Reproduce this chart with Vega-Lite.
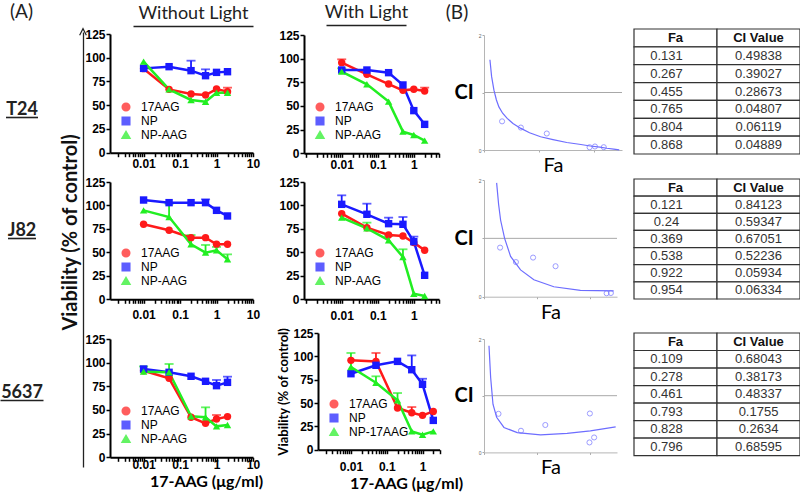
{
"$schema": "https://vega.github.io/schema/vega-lite/v6.json",
"background": "white",
"padding": 0,
"bounds": "flush",
"spacing": 0,
"resolve": {"scale": {"color": "independent", "shape": "independent"}, "legend": {"color": "independent", "shape": "independent"}},
"config": {
  "view": {"stroke": null},
  "font": "Liberation Sans",
  "axis": {"grid": false, "domainColor": "black", "domainWidth": 2, "tickColor": "black", "tickWidth": 1.5, "tickSize": 4, "labelColor": "black", "labelFont": "Liberation Sans", "labelFontWeight": "bold", "labelFontSize": 12, "labelOverlap": false, "labelFlush": false, "labelBound": false, "titleColor": "black", "titleFont": "Lato", "titleFontWeight": "bold"},
  "legend": {"orient": "bottom-left", "offset": 10, "padding": 0, "rowPadding": -5, "symbolSize": 50, "labelOffset": 9, "labelFont": "Liberation Sans", "labelFontSize": 12, "labelColor": "black", "symbolStrokeWidth": 2}
},
"datasets": {
  "dr": [
    {"cell":"T24","light":"without","agent":"17AAG","dose":0.01,"v":88.5},
    {"cell":"T24","light":"without","agent":"17AAG","dose":0.05,"v":66.7},
    {"cell":"T24","light":"without","agent":"17AAG","dose":0.2,"v":61.8},
    {"cell":"T24","light":"without","agent":"17AAG","dose":0.5,"v":60.7},
    {"cell":"T24","light":"without","agent":"17AAG","dose":1,"v":67},
    {"cell":"T24","light":"without","agent":"17AAG","dose":2,"v":64.3,"hi":68.5},
    {"cell":"T24","light":"without","agent":"NP","dose":0.01,"v":88.8},
    {"cell":"T24","light":"without","agent":"NP","dose":0.05,"v":90.6},
    {"cell":"T24","light":"without","agent":"NP","dose":0.2,"v":86.4,"hi":96.9},
    {"cell":"T24","light":"without","agent":"NP","dose":0.5,"v":81.1,"hi":87.8},
    {"cell":"T24","light":"without","agent":"NP","dose":1,"v":84.6},
    {"cell":"T24","light":"without","agent":"NP","dose":2,"v":85.3},
    {"cell":"T24","light":"without","agent":"NP-AAG","dose":0.01,"v":95.9},
    {"cell":"T24","light":"without","agent":"NP-AAG","dose":0.05,"v":66.7},
    {"cell":"T24","light":"without","agent":"NP-AAG","dose":0.2,"v":55.5},
    {"cell":"T24","light":"without","agent":"NP-AAG","dose":0.5,"v":53.7},
    {"cell":"T24","light":"without","agent":"NP-AAG","dose":1,"v":63.2},
    {"cell":"T24","light":"without","agent":"NP-AAG","dose":2,"v":63.2},

    {"cell":"T24","light":"with","agent":"17AAG","dose":0.01,"v":95.8,"hi":99.3},
    {"cell":"T24","light":"with","agent":"17AAG","dose":0.05,"v":83.5},
    {"cell":"T24","light":"with","agent":"17AAG","dose":0.2,"v":73.2},
    {"cell":"T24","light":"with","agent":"17AAG","dose":0.5,"v":66.5},
    {"cell":"T24","light":"with","agent":"17AAG","dose":1,"v":67.6},
    {"cell":"T24","light":"with","agent":"17AAG","dose":2,"v":65.8,"hi":69.4},
    {"cell":"T24","light":"with","agent":"NP","dose":0.01,"v":88},
    {"cell":"T24","light":"with","agent":"NP","dose":0.05,"v":88},
    {"cell":"T24","light":"with","agent":"NP","dose":0.2,"v":85.2},
    {"cell":"T24","light":"with","agent":"NP","dose":0.5,"v":72.2},
    {"cell":"T24","light":"with","agent":"NP","dose":1,"v":45.1},
    {"cell":"T24","light":"with","agent":"NP","dose":2,"v":30.6},
    {"cell":"T24","light":"with","agent":"NP-AAG","dose":0.01,"v":86.3,"hi":89.8},
    {"cell":"T24","light":"with","agent":"NP-AAG","dose":0.05,"v":72.9},
    {"cell":"T24","light":"with","agent":"NP-AAG","dose":0.2,"v":54.6},
    {"cell":"T24","light":"with","agent":"NP-AAG","dose":0.5,"v":22.9},
    {"cell":"T24","light":"with","agent":"NP-AAG","dose":1,"v":19.4},
    {"cell":"T24","light":"with","agent":"NP-AAG","dose":2,"v":13.4},

    {"cell":"J82","light":"without","agent":"17AAG","dose":0.01,"v":79.9},
    {"cell":"J82","light":"without","agent":"17AAG","dose":0.05,"v":73.5},
    {"cell":"J82","light":"without","agent":"17AAG","dose":0.2,"v":65.7},
    {"cell":"J82","light":"without","agent":"17AAG","dose":0.5,"v":65.7},
    {"cell":"J82","light":"without","agent":"17AAG","dose":1,"v":58.6},
    {"cell":"J82","light":"without","agent":"17AAG","dose":2,"v":58.6},
    {"cell":"J82","light":"without","agent":"NP","dose":0.01,"v":105.8},
    {"cell":"J82","light":"without","agent":"NP","dose":0.05,"v":103},
    {"cell":"J82","light":"without","agent":"NP","dose":0.2,"v":103},
    {"cell":"J82","light":"without","agent":"NP","dose":0.5,"v":103,"hi":106.5},
    {"cell":"J82","light":"without","agent":"NP","dose":1,"v":94.8},
    {"cell":"J82","light":"without","agent":"NP","dose":2,"v":88.8},
    {"cell":"J82","light":"without","agent":"NP-AAG","dose":0.01,"v":94.8},
    {"cell":"J82","light":"without","agent":"NP-AAG","dose":0.05,"v":87.7,"hi":101.9},
    {"cell":"J82","light":"without","agent":"NP-AAG","dose":0.2,"v":58.6,"hi":68.5},
    {"cell":"J82","light":"without","agent":"NP-AAG","dose":0.5,"v":49.7,"hi":57.9},
    {"cell":"J82","light":"without","agent":"NP-AAG","dose":1,"v":52.2,"hi":55.8},
    {"cell":"J82","light":"without","agent":"NP-AAG","dose":2,"v":42.6,"hi":47.9},

    {"cell":"J82","light":"with","agent":"17AAG","dose":0.01,"v":91.3},
    {"cell":"J82","light":"with","agent":"17AAG","dose":0.05,"v":76.3},
    {"cell":"J82","light":"with","agent":"17AAG","dose":0.2,"v":68.5},
    {"cell":"J82","light":"with","agent":"17AAG","dose":0.5,"v":67.5},
    {"cell":"J82","light":"with","agent":"17AAG","dose":1,"v":60.4},
    {"cell":"J82","light":"with","agent":"17AAG","dose":2,"v":52.2},
    {"cell":"J82","light":"with","agent":"NP","dose":0.01,"v":101.2,"hi":110.8},
    {"cell":"J82","light":"with","agent":"NP","dose":0.05,"v":90.6,"hi":101.9},
    {"cell":"J82","light":"with","agent":"NP","dose":0.2,"v":80.6,"hi":87},
    {"cell":"J82","light":"with","agent":"NP","dose":0.5,"v":79.9,"hi":87.7},
    {"cell":"J82","light":"with","agent":"NP","dose":1,"v":61.4,"hi":66.8},
    {"cell":"J82","light":"with","agent":"NP","dose":2,"v":25.6},
    {"cell":"J82","light":"with","agent":"NP-AAG","dose":0.01,"v":87},
    {"cell":"J82","light":"with","agent":"NP-AAG","dose":0.05,"v":75.6,"hi":81.7},
    {"cell":"J82","light":"with","agent":"NP-AAG","dose":0.2,"v":62.9,"hi":67.5},
    {"cell":"J82","light":"with","agent":"NP-AAG","dose":0.5,"v":45.1,"hi":53.3},
    {"cell":"J82","light":"with","agent":"NP-AAG","dose":1,"v":6},
    {"cell":"J82","light":"with","agent":"NP-AAG","dose":2,"v":3.6},

    {"cell":"5637","light":"without","agent":"17AAG","dose":0.01,"v":91.5},
    {"cell":"5637","light":"without","agent":"17AAG","dose":0.05,"v":83.5},
    {"cell":"5637","light":"without","agent":"17AAG","dose":0.2,"v":42.3},
    {"cell":"5637","light":"without","agent":"17AAG","dose":0.5,"v":35.9},
    {"cell":"5637","light":"without","agent":"17AAG","dose":1,"v":40.5,"hi":44.7},
    {"cell":"5637","light":"without","agent":"17AAG","dose":2,"v":43},
    {"cell":"5637","light":"without","agent":"NP","dose":0.01,"v":93.3},
    {"cell":"5637","light":"without","agent":"NP","dose":0.05,"v":89.8},
    {"cell":"5637","light":"without","agent":"NP","dose":0.2,"v":85.6},
    {"cell":"5637","light":"without","agent":"NP","dose":0.5,"v":80.3},
    {"cell":"5637","light":"without","agent":"NP","dose":1,"v":75.7,"hi":81.7},
    {"cell":"5637","light":"without","agent":"NP","dose":2,"v":79.2,"hi":85.2},
    {"cell":"5637","light":"without","agent":"NP-AAG","dose":0.01,"v":90.5,"hi":96},
    {"cell":"5637","light":"without","agent":"NP-AAG","dose":0.05,"v":89.8,"hi":98.6},
    {"cell":"5637","light":"without","agent":"NP-AAG","dose":0.2,"v":43.3},
    {"cell":"5637","light":"without","agent":"NP-AAG","dose":0.5,"v":42.3,"hi":52.8},
    {"cell":"5637","light":"without","agent":"NP-AAG","dose":1,"v":32.7},
    {"cell":"5637","light":"without","agent":"NP-AAG","dose":2,"v":34.2},

    {"cell":"5637","light":"with","agent":"17AAG","dose":0.01,"v":95.7},
    {"cell":"5637","light":"with","agent":"17AAG","dose":0.05,"v":94.6,"hi":103.6},
    {"cell":"5637","light":"with","agent":"17AAG","dose":0.2,"v":44.6},
    {"cell":"5637","light":"with","agent":"17AAG","dose":0.5,"v":39.6,"hi":45.7},
    {"cell":"5637","light":"with","agent":"17AAG","dose":1,"v":36.8},
    {"cell":"5637","light":"with","agent":"17AAG","dose":2,"v":41},
    {"cell":"5637","light":"with","agent":"NP","dose":0.01,"v":81.4},
    {"cell":"5637","light":"with","agent":"NP","dose":0.05,"v":90.4},
    {"cell":"5637","light":"with","agent":"NP","dose":0.2,"v":94.6},
    {"cell":"5637","light":"with","agent":"NP","dose":0.5,"v":85.7,"hi":101},
    {"cell":"5637","light":"with","agent":"NP","dose":1,"v":70,"hi":76},
    {"cell":"5637","light":"with","agent":"NP","dose":2,"v":31.4},
    {"cell":"5637","light":"with","agent":"NP-17AAG","dose":0.01,"v":88.6,"hi":103.6},
    {"cell":"5637","light":"with","agent":"NP-17AAG","dose":0.05,"v":71.8,"hi":78.6},
    {"cell":"5637","light":"with","agent":"NP-17AAG","dose":0.2,"v":52.9,"hi":60.7},
    {"cell":"5637","light":"with","agent":"NP-17AAG","dose":0.5,"v":19.6},
    {"cell":"5637","light":"with","agent":"NP-17AAG","dose":1,"v":16},
    {"cell":"5637","light":"with","agent":"NP-17AAG","dose":2,"v":19.6}
  ],
  "ci": [
    {"cell":"T24","Fa":0.131,"CI":0.49838},{"cell":"T24","Fa":0.267,"CI":0.39027},{"cell":"T24","Fa":0.455,"CI":0.28673},
    {"cell":"T24","Fa":0.765,"CI":0.04807},{"cell":"T24","Fa":0.804,"CI":0.06119},{"cell":"T24","Fa":0.868,"CI":0.04889},
    {"cell":"J82","Fa":0.121,"CI":0.84123},{"cell":"J82","Fa":0.24,"CI":0.59347},{"cell":"J82","Fa":0.369,"CI":0.67051},
    {"cell":"J82","Fa":0.538,"CI":0.52236},{"cell":"J82","Fa":0.922,"CI":0.05934},{"cell":"J82","Fa":0.954,"CI":0.06334},
    {"cell":"5637","Fa":0.109,"CI":0.68043},{"cell":"5637","Fa":0.278,"CI":0.38173},{"cell":"5637","Fa":0.461,"CI":0.48337},
    {"cell":"5637","Fa":0.793,"CI":0.1755},{"cell":"5637","Fa":0.828,"CI":0.2634},{"cell":"5637","Fa":0.796,"CI":0.68595}
  ],
  "fit": [
    {"cell":"T24","Fa":0.043,"CI":1.57},{"cell":"T24","Fa":0.055,"CI":1.28},{"cell":"T24","Fa":0.072,"CI":1.04},
    {"cell":"T24","Fa":0.09,"CI":0.87},{"cell":"T24","Fa":0.108,"CI":0.75},{"cell":"T24","Fa":0.135,"CI":0.64},
    {"cell":"T24","Fa":0.168,"CI":0.55},{"cell":"T24","Fa":0.21,"CI":0.46},{"cell":"T24","Fa":0.264,"CI":0.38},
    {"cell":"T24","Fa":0.33,"CI":0.3},{"cell":"T24","Fa":0.41,"CI":0.23},{"cell":"T24","Fa":0.5,"CI":0.18},
    {"cell":"T24","Fa":0.6,"CI":0.13},{"cell":"T24","Fa":0.69,"CI":0.1},{"cell":"T24","Fa":0.77,"CI":0.07},
    {"cell":"T24","Fa":0.84,"CI":0.05},{"cell":"T24","Fa":0.89,"CI":0.03},{"cell":"T24","Fa":0.94,"CI":0.015},
    {"cell":"T24","Fa":0.98,"CI":0.003},
    {"cell":"J82","Fa":0.095,"CI":1.95},{"cell":"J82","Fa":0.11,"CI":1.58},{"cell":"J82","Fa":0.125,"CI":1.31},
    {"cell":"J82","Fa":0.155,"CI":1.0},{"cell":"J82","Fa":0.2,"CI":0.69},{"cell":"J82","Fa":0.275,"CI":0.46},
    {"cell":"J82","Fa":0.375,"CI":0.29},{"cell":"J82","Fa":0.525,"CI":0.17},{"cell":"J82","Fa":0.725,"CI":0.11},
    {"cell":"J82","Fa":0.975,"CI":0.1},
    {"cell":"5637","Fa":0.0375,"CI":1.88},{"cell":"5637","Fa":0.05,"CI":1.32},{"cell":"5637","Fa":0.0675,"CI":0.85},
    {"cell":"5637","Fa":0.095,"CI":0.62},{"cell":"5637","Fa":0.15,"CI":0.44},{"cell":"5637","Fa":0.25,"CI":0.35},
    {"cell":"5637","Fa":0.425,"CI":0.31},{"cell":"5637","Fa":0.625,"CI":0.335},{"cell":"5637","Fa":0.8,"CI":0.38},
    {"cell":"5637","Fa":0.99,"CI":0.45}
  ],
  "tbl": [
    {"cell":"T24","r":0,"Fa":"Fa","CI":"CI Value"},{"cell":"T24","r":1,"Fa":"0.131","CI":"0.49838"},
    {"cell":"T24","r":2,"Fa":"0.267","CI":"0.39027"},{"cell":"T24","r":3,"Fa":"0.455","CI":"0.28673"},
    {"cell":"T24","r":4,"Fa":"0.765","CI":"0.04807"},{"cell":"T24","r":5,"Fa":"0.804","CI":"0.06119"},
    {"cell":"T24","r":6,"Fa":"0.868","CI":"0.04889"},
    {"cell":"J82","r":0,"Fa":"Fa","CI":"CI Value"},{"cell":"J82","r":1,"Fa":"0.121","CI":"0.84123"},
    {"cell":"J82","r":2,"Fa":"0.24","CI":"0.59347"},{"cell":"J82","r":3,"Fa":"0.369","CI":"0.67051"},
    {"cell":"J82","r":4,"Fa":"0.538","CI":"0.52236"},{"cell":"J82","r":5,"Fa":"0.922","CI":"0.05934"},
    {"cell":"J82","r":6,"Fa":"0.954","CI":"0.06334"},
    {"cell":"5637","r":0,"Fa":"Fa","CI":"CI Value"},{"cell":"5637","r":1,"Fa":"0.109","CI":"0.68043"},
    {"cell":"5637","r":2,"Fa":"0.278","CI":"0.38173"},{"cell":"5637","r":3,"Fa":"0.461","CI":"0.48337"},
    {"cell":"5637","r":4,"Fa":"0.793","CI":"0.1755"},{"cell":"5637","r":5,"Fa":"0.828","CI":"0.2634"},
    {"cell":"5637","r":6,"Fa":"0.796","CI":"0.68595"}
  ]
},
"hconcat": [
  {
    "vconcat": [
      {"width": 43, "height": 24, "data": {"values": [{}]}, "mark": {"type": "text", "text": "(A)", "font": "Lato", "fontSize": 19, "color": "#222"}},
      {"width": 1, "height": 93, "data": {"values": []}, "mark": "point"},
      {"width": 32, "height": 1, "data": {"values": [{"k": "a"}]}, "mark": {"type": "point", "opacity": 0},
       "encoding": {"x": {"field": "k", "type": "nominal", "axis": {"orient": "top", "labels": false, "ticks": false, "domainColor": "#222", "domainWidth": 1.6, "title": "T24", "titleFont": "Lato", "titleFontSize": 18, "titleFontWeight": "bold", "titleColor": "#222", "titleBaseline": "alphabetic", "titlePadding": 3}}}},
      {"width": 1, "height": 120, "data": {"values": []}, "mark": "point"},
      {"width": 28, "height": 1, "data": {"values": [{"k": "a"}]}, "mark": {"type": "point", "opacity": 0},
       "encoding": {"x": {"field": "k", "type": "nominal", "axis": {"orient": "top", "labels": false, "ticks": false, "domainColor": "#222", "domainWidth": 1.6, "title": "J82", "titleFont": "Lato", "titleFontSize": 18, "titleFontWeight": "bold", "titleColor": "#222", "titleBaseline": "alphabetic", "titlePadding": 3}}}},
      {"width": 1, "height": 161, "data": {"values": []}, "mark": "point"},
      {"width": 43, "height": 1, "data": {"values": [{"k": "a"}]}, "mark": {"type": "point", "opacity": 0},
       "encoding": {"x": {"field": "k", "type": "nominal", "axis": {"orient": "top", "labels": false, "ticks": false, "domainColor": "#222", "domainWidth": 1.6, "title": "5637", "titleFont": "Lato", "titleFontSize": 18, "titleFontWeight": "bold", "titleColor": "#222", "titleBaseline": "alphabetic", "titlePadding": 3}}}}
    ],
    "spacing": 0, "bounds": "flush", "center": true
  },
  {"width": 83, "height": 1, "data": {"values": []}, "mark": "point"},
  {
    "vconcat": [
      {"width": 1, "height": 32, "data": {"values": []}, "mark": "point"},
      {"width": 27, "height": 435, "data": {"values": [{}]},
       "mark": {"type": "point", "shape": "M-1,1L0,-1L1,1", "filled": false, "color": "#222", "strokeWidth": 1.2, "size": 45, "opacity": 1},
       "encoding": {
         "x": {"datum": 0, "type": "quantitative", "scale": {"domain": [0, 1]}, "axis": null},
         "y": {"datum": 1, "type": "quantitative", "scale": {"domain": [0, 1]}, "axis": {"orient": "left", "labels": false, "ticks": false, "domainWidth": 1.3, "domainColor": "#222", "title": "Viability (% of control)", "titleFont": "Lato", "titleFontSize": 20, "titleFontWeight": "bold", "titleColor": "#111", "titlePadding": 3, "titleY": 200}}
       }}
    ],
    "spacing": 0, "bounds": "flush"
  },
  {"width": 27, "height": 1, "data": {"values": []}, "mark": "point"},
  {
    "vconcat": [
      {"width": 1, "height": 26, "data": {"values": []}, "mark": "point"},
      {"hconcat": [
        {"width": 23, "height": 8, "data": {"values": []}, "mark": "point"},
        {"width": 120, "height": 8, "data": {"values": [{"k": "a"}]}, "mark": {"type": "point", "opacity": 0},
         "encoding": {"x": {"field": "k", "type": "nominal", "axis": {"orient": "top", "labels": false, "ticks": false, "domainColor": "#222", "domainWidth": 1.5, "title": "Without Light", "titleFont": "Lato", "titleFontSize": 18, "titleFontWeight": "normal", "titleColor": "#222", "titleBaseline": "alphabetic", "titlePadding": 8}}}}
      ], "spacing": 0, "bounds": "flush"},
      {"width": 1, "height": 8, "data": {"values": []}, "mark": "point"},
      {
        "width": 143, "height": 118.7,
        "data": {"name": "dr"},
        "transform": [{"filter": "datum.cell == 'T24' && datum.light == 'without'"}],
        "encoding": {
          "x": {"field": "dose", "type": "quantitative", "scale": {"type": "log", "domain": [0.0012, 10]}, "axis": {"values": [0.002,0.003,0.004,0.005,0.006,0.007,0.008,0.009,0.01,0.02,0.03,0.04,0.05,0.06,0.07,0.08,0.09,0.1,0.2,0.3,0.4,0.5,0.6,0.7,0.8,0.9,1,2,3,4,5,6,7,8,9,10], "labelExpr": "datum.value == 0.01 ? '0.01' : datum.value == 0.1 ? '0.1' : datum.value == 1 ? '1' : datum.value == 10 ? '10' : ''", "labelPadding": 2, "title": null}},
          "y": {"field": "v", "type": "quantitative", "scale": {"domain": [0, 125]}, "axis": {"values": [0,25,50,75,100,125], "labelPadding": 1, "title": null}},
          "color": {"field": "agent", "type": "nominal", "scale": {"domain": ["17AAG","NP","NP-AAG"], "range": ["#ff1a1a","#1a1aff","#22ee22"]}, "legend": {"title": null, "rowPadding": -5}}
        },
        "layer": [
          {"transform": [{"filter": "datum.hi != null"}], "mark": {"type": "rule", "strokeWidth": 1.8}, "encoding": {"y2": {"field": "hi"}}},
          {"transform": [{"filter": "datum.hi != null"}], "mark": {"type": "tick", "orient": "horizontal", "thickness": 1.8, "size": 9}, "encoding": {"y": {"field": "hi", "type": "quantitative", "axis": {"values": [0,25,50,75,100,125], "labelPadding": 1, "title": null}}}},
          {"mark": {"type": "line", "strokeWidth": 2.5}, "encoding": {}},
          {"mark": {"type": "point", "filled": true, "size": 55, "opacity": 1}, "encoding": {"shape": {"field": "agent", "type": "nominal", "scale": {"domain": ["17AAG","NP","NP-AAG"], "range": ["circle","square","triangle-up"]}, "legend": {"title": null, "rowPadding": -5}}}}
        ]
      },
      {"width": 1, "height": 28.3, "data": {"values": []}, "mark": "point"},
      {
        "width": 143, "height": 117.3,
        "data": {"name": "dr"},
        "transform": [{"filter": "datum.cell == 'J82' && datum.light == 'without'"}],
        "encoding": {
          "x": {"field": "dose", "type": "quantitative", "scale": {"type": "log", "domain": [0.0012, 10]}, "axis": {"values": [0.002,0.003,0.004,0.005,0.006,0.007,0.008,0.009,0.01,0.02,0.03,0.04,0.05,0.06,0.07,0.08,0.09,0.1,0.2,0.3,0.4,0.5,0.6,0.7,0.8,0.9,1,2,3,4,5,6,7,8,9,10], "labelExpr": "datum.value == 0.01 ? '0.01' : datum.value == 0.1 ? '0.1' : datum.value == 1 ? '1' : datum.value == 10 ? '10' : ''", "labelPadding": 6, "title": null}},
          "y": {"field": "v", "type": "quantitative", "scale": {"domain": [0, 125]}, "axis": {"values": [0,25,50,75,100,125], "labelPadding": 1, "title": null}},
          "color": {"field": "agent", "type": "nominal", "scale": {"domain": ["17AAG","NP","NP-AAG"], "range": ["#ff1a1a","#1a1aff","#22ee22"]}, "legend": {"title": null, "rowPadding": -5}}
        },
        "layer": [
          {"transform": [{"filter": "datum.hi != null"}], "mark": {"type": "rule", "strokeWidth": 1.8}, "encoding": {"y2": {"field": "hi"}}},
          {"transform": [{"filter": "datum.hi != null"}], "mark": {"type": "tick", "orient": "horizontal", "thickness": 1.8, "size": 9}, "encoding": {"y": {"field": "hi", "type": "quantitative", "axis": {"values": [0,25,50,75,100,125], "labelPadding": 1, "title": null}}}},
          {"mark": {"type": "line", "strokeWidth": 2.5}, "encoding": {}},
          {"mark": {"type": "point", "filled": true, "size": 55, "opacity": 1}, "encoding": {"shape": {"field": "agent", "type": "nominal", "scale": {"domain": ["17AAG","NP","NP-AAG"], "range": ["circle","square","triangle-up"]}, "legend": {"title": null, "rowPadding": -5}}}}
        ]
      },
      {"width": 1, "height": 38.4, "data": {"values": []}, "mark": "point"},
      {
        "width": 143, "height": 118.3,
        "data": {"name": "dr"},
        "transform": [{"filter": "datum.cell == '5637' && datum.light == 'without'"}],
        "encoding": {
          "x": {"field": "dose", "type": "quantitative", "scale": {"type": "log", "domain": [0.0012, 10]}, "axis": {"values": [0.002,0.003,0.004,0.005,0.006,0.007,0.008,0.009,0.01,0.02,0.03,0.04,0.05,0.06,0.07,0.08,0.09,0.1,0.2,0.3,0.4,0.5,0.6,0.7,0.8,0.9,1,2,3,4,5,6,7,8,9,10], "labelExpr": "datum.value == 0.01 ? '0.01' : datum.value == 0.1 ? '0.1' : datum.value == 1 ? '1' : datum.value == 10 ? '10' : ''", "labelPadding": -2, "title": "17-AAG (μg/ml)", "titleFontSize": 16, "titlePadding": 3, "titleX": 96}},
          "y": {"field": "v", "type": "quantitative", "scale": {"domain": [0, 125]}, "axis": {"values": [0,25,50,75,100,125], "labelPadding": 1, "title": null}},
          "color": {"field": "agent", "type": "nominal", "scale": {"domain": ["17AAG","NP","NP-AAG"], "range": ["#ff1a1a","#1a1aff","#22ee22"]}, "legend": {"title": null, "rowPadding": -5}}
        },
        "layer": [
          {"transform": [{"filter": "datum.hi != null"}], "mark": {"type": "rule", "strokeWidth": 1.8}, "encoding": {"y2": {"field": "hi"}}},
          {"transform": [{"filter": "datum.hi != null"}], "mark": {"type": "tick", "orient": "horizontal", "thickness": 1.8, "size": 9}, "encoding": {"y": {"field": "hi", "type": "quantitative", "axis": {"values": [0,25,50,75,100,125], "labelPadding": 1, "title": null}}}},
          {"mark": {"type": "line", "strokeWidth": 2.5}, "encoding": {}},
          {"mark": {"type": "point", "filled": true, "size": 55, "opacity": 1}, "encoding": {"shape": {"field": "agent", "type": "nominal", "scale": {"domain": ["17AAG","NP","NP-AAG"], "range": ["circle","square","triangle-up"]}, "legend": {"title": null, "rowPadding": -5}}}}
        ]
      }
    ],
    "spacing": 0, "bounds": "flush",
    "resolve": {"scale": {"color": "independent", "shape": "independent"}, "legend": {"color": "independent", "shape": "independent"}}
  },
  {"width": 193.3, "height": 1, "data": {"values": []}, "mark": "point"},
  {
    "vconcat": [
      {"width": 1, "height": 25, "data": {"values": []}, "mark": "point"},
      {"hconcat": [
        {"width": 21.7, "height": 10, "data": {"values": []}, "mark": "point"},
        {"width": 80, "height": 10, "data": {"values": [{"k": "a"}]}, "mark": {"type": "point", "opacity": 0},
         "encoding": {"x": {"field": "k", "type": "nominal", "axis": {"orient": "top", "labels": false, "ticks": false, "domainColor": "#222", "domainWidth": 1.5, "title": "With Light", "titleFont": "Lato", "titleFontSize": 18, "titleFontWeight": "normal", "titleColor": "#222", "titleBaseline": "alphabetic", "titlePadding": 8}}}}
      ], "spacing": 0, "bounds": "flush"},
      {"width": 1, "height": 10, "data": {"values": []}, "mark": "point"},
      {
        "width": 135, "height": 118.3,
        "data": {"name": "dr"},
        "transform": [{"filter": "datum.cell == 'T24' && datum.light == 'with'"}],
        "encoding": {
          "x": {"field": "dose", "type": "quantitative", "scale": {"type": "log", "domain": [0.0009, 5]}, "axis": {"values": [0.001,0.002,0.003,0.004,0.005,0.006,0.007,0.008,0.009,0.01,0.02,0.03,0.04,0.05,0.06,0.07,0.08,0.09,0.1,0.2,0.3,0.4,0.5,0.6,0.7,0.8,0.9,1,2,3,4,5], "labelExpr": "datum.value == 0.01 ? '0.01' : datum.value == 0.1 ? '0.1' : datum.value == 1 ? '1' : ''", "labelPadding": 2, "title": null}},
          "y": {"field": "v", "type": "quantitative", "scale": {"domain": [0, 125]}, "axis": {"values": [0,25,50,75,100,125], "labelPadding": 1, "title": null}},
          "color": {"field": "agent", "type": "nominal", "scale": {"domain": ["17AAG","NP","NP-AAG"], "range": ["#ff1a1a","#1a1aff","#22ee22"]}, "legend": {"title": null, "rowPadding": -5}}
        },
        "layer": [
          {"transform": [{"filter": "datum.hi != null"}], "mark": {"type": "rule", "strokeWidth": 1.8}, "encoding": {"y2": {"field": "hi"}}},
          {"transform": [{"filter": "datum.hi != null"}], "mark": {"type": "tick", "orient": "horizontal", "thickness": 1.8, "size": 9}, "encoding": {"y": {"field": "hi", "type": "quantitative", "axis": {"values": [0,25,50,75,100,125], "labelPadding": 1, "title": null}}}},
          {"mark": {"type": "line", "strokeWidth": 2.5}, "encoding": {}},
          {"mark": {"type": "point", "filled": true, "size": 55, "opacity": 1}, "encoding": {"shape": {"field": "agent", "type": "nominal", "scale": {"domain": ["17AAG","NP","NP-AAG"], "range": ["circle","square","triangle-up"]}, "legend": {"title": null, "rowPadding": -5}}}}
        ]
      },
      {"width": 1, "height": 27.7, "data": {"values": []}, "mark": "point"},
      {
        "width": 135, "height": 117.3,
        "data": {"name": "dr"},
        "transform": [{"filter": "datum.cell == 'J82' && datum.light == 'with'"}],
        "encoding": {
          "x": {"field": "dose", "type": "quantitative", "scale": {"type": "log", "domain": [0.0009, 5]}, "axis": {"values": [0.001,0.002,0.003,0.004,0.005,0.006,0.007,0.008,0.009,0.01,0.02,0.03,0.04,0.05,0.06,0.07,0.08,0.09,0.1,0.2,0.3,0.4,0.5,0.6,0.7,0.8,0.9,1,2,3,4,5], "labelExpr": "datum.value == 0.01 ? '0.01' : datum.value == 0.1 ? '0.1' : datum.value == 1 ? '1' : ''", "labelPadding": 7, "title": null}},
          "y": {"field": "v", "type": "quantitative", "scale": {"domain": [0, 125]}, "axis": {"values": [0,25,50,75,100,125], "labelPadding": 1, "title": null}},
          "color": {"field": "agent", "type": "nominal", "scale": {"domain": ["17AAG","NP","NP-AAG"], "range": ["#ff1a1a","#1a1aff","#22ee22"]}, "legend": {"title": null, "rowPadding": -5}}
        },
        "layer": [
          {"transform": [{"filter": "datum.hi != null"}], "mark": {"type": "rule", "strokeWidth": 1.8}, "encoding": {"y2": {"field": "hi"}}},
          {"transform": [{"filter": "datum.hi != null"}], "mark": {"type": "tick", "orient": "horizontal", "thickness": 1.8, "size": 9}, "encoding": {"y": {"field": "hi", "type": "quantitative", "axis": {"values": [0,25,50,75,100,125], "labelPadding": 1, "title": null}}}},
          {"mark": {"type": "line", "strokeWidth": 2.5}, "encoding": {}},
          {"mark": {"type": "point", "filled": true, "size": 55, "opacity": 1}, "encoding": {"shape": {"field": "agent", "type": "nominal", "scale": {"domain": ["17AAG","NP","NP-AAG"], "range": ["circle","square","triangle-up"]}, "legend": {"title": null, "rowPadding": -5}}}}
        ]
      },
      {"width": 1, "height": 32.7, "data": {"values": []}, "mark": "point"},
      {"hconcat": [
        {"width": 13.4, "height": 1, "data": {"values": []}, "mark": "point"},
        {
          "width": 121.6, "height": 116.7,
          "data": {"name": "dr"},
          "transform": [{"filter": "datum.cell == '5637' && datum.light == 'with'"}],
          "encoding": {
            "x": {"field": "dose", "type": "quantitative", "scale": {"type": "log", "domain": [0.0012, 3]}, "axis": {"values": [0.002,0.003,0.004,0.005,0.006,0.007,0.008,0.009,0.01,0.02,0.03,0.04,0.05,0.06,0.07,0.08,0.09,0.1,0.2,0.3,0.4,0.5,0.6,0.7,0.8,0.9,1,2,3], "labelExpr": "datum.value == 0.01 ? '0.01' : datum.value == 0.1 ? '0.1' : datum.value == 1 ? '1' : ''", "labelPadding": 8, "title": "17-AAG (μg/ml)", "titleFontSize": 16, "titlePadding": 3, "titleX": 88}},
            "y": {"field": "v", "type": "quantitative", "scale": {"domain": [0, 125]}, "axis": {"values": [0,25,50,75,100,125], "labelPadding": 1, "title": "Viability (% of control)", "titleFontSize": 13, "titlePadding": 2}},
            "color": {"field": "agent", "type": "nominal", "scale": {"domain": ["17AAG","NP","NP-17AAG"], "range": ["#ff1a1a","#1a1aff","#22ee22"]}, "legend": {"title": null, "rowPadding": -5}}
          },
          "layer": [
            {"transform": [{"filter": "datum.hi != null"}], "mark": {"type": "rule", "strokeWidth": 1.8}, "encoding": {"y2": {"field": "hi"}}},
            {"transform": [{"filter": "datum.hi != null"}], "mark": {"type": "tick", "orient": "horizontal", "thickness": 1.8, "size": 9}, "encoding": {"y": {"field": "hi", "type": "quantitative", "axis": {"values": [0,25,50,75,100,125], "labelPadding": 1, "title": "Viability (% of control)", "titleFontSize": 13, "titlePadding": 2}}}},
            {"mark": {"type": "line", "strokeWidth": 2.5}, "encoding": {}},
            {"mark": {"type": "point", "filled": true, "size": 55, "opacity": 1}, "encoding": {"shape": {"field": "agent", "type": "nominal", "scale": {"domain": ["17AAG","NP","NP-17AAG"], "range": ["circle","square","triangle-up"]}, "legend": {"title": null, "rowPadding": -5}}}}
          ]
        }
      ], "spacing": 0, "bounds": "flush",
      "resolve": {"scale": {"color": "independent", "shape": "independent"}, "legend": {"color": "independent", "shape": "independent"}}}
    ],
    "spacing": 0, "bounds": "flush",
    "resolve": {"scale": {"color": "independent", "shape": "independent"}, "legend": {"color": "independent", "shape": "independent"}}
  },
  {"width": 135, "height": 1, "data": {"values": []}, "mark": "point"},
  {"width": 36, "height": 25, "data": {"values": [{}]}, "mark": {"type": "text", "text": "(B)", "font": "Lato", "fontSize": 19, "color": "#222"}},
  {"width": 9, "height": 1, "data": {"values": []}, "mark": "point"},
  {
    "vconcat": [
      {"width": 1, "height": 35, "data": {"values": []}, "mark": "point"},
      {
        "width": 138, "height": 115,
        "layer": [
          {"data": {"values": [{}]}, "mark": {"type": "rule", "color": "#a8a8a8", "strokeWidth": 1}, "encoding": {"y": {"datum": 1, "type": "quantitative", "scale": {"domain": [0, 2]}, "axis": {"values": [0,0.5,1,1.5,2], "labelExpr": "datum.value == 0 ? '0' : datum.value == 2 ? '2' : ''", "labelFontSize": 5, "labelFontWeight": "normal", "labelColor": "#666", "labelPadding": 1, "tickSize": 2, "tickWidth": 1, "tickColor": "#aaa", "domainColor": "#b5b5b5", "domainWidth": 1, "title": "CI", "titleAngle": 0, "titleAlign": "right", "titleBaseline": "middle", "titleFontSize": 20, "titlePadding": 5}}}},
          {"data": {"name": "fit"}, "transform": [{"filter": "datum.cell == 'T24'"}], "mark": {"type": "line", "color": "#6d6dff", "strokeWidth": 1.2},
           "encoding": {"x": {"field": "Fa", "type": "quantitative", "scale": {"domain": [0, 1]}, "axis": {"values": [0,0.1,0.2,0.3,0.4,0.5,0.6,0.7,0.8,0.9,1], "labels": false, "tickSize": 2, "tickWidth": 1, "tickColor": "#aaa", "domainColor": "#b5b5b5", "domainWidth": 1, "title": "Fa", "titleFontWeight": "normal", "titleFontSize": 20, "titlePadding": 3}},
                        "y": {"field": "CI", "type": "quantitative"}}},
          {"data": {"name": "ci"}, "transform": [{"filter": "datum.cell == 'T24'"}], "mark": {"type": "point", "filled": false, "color": "#7272ff", "size": 26, "strokeWidth": 1},
           "encoding": {"x": {"field": "Fa", "type": "quantitative"}, "y": {"field": "CI", "type": "quantitative"}}}
        ]
      },
      {"width": 1, "height": 30, "data": {"values": []}, "mark": "point"},
      {
        "width": 133, "height": 116.7,
        "layer": [
          {"data": {"values": [{}]}, "mark": {"type": "rule", "color": "#a8a8a8", "strokeWidth": 1}, "encoding": {"y": {"datum": 1, "type": "quantitative", "scale": {"domain": [0, 2]}, "axis": {"values": [0,0.5,1,1.5,2], "labelExpr": "datum.value == 0 ? '0' : datum.value == 2 ? '2' : ''", "labelFontSize": 5, "labelFontWeight": "normal", "labelColor": "#666", "labelPadding": 1, "tickSize": 2, "tickWidth": 1, "tickColor": "#aaa", "domainColor": "#b5b5b5", "domainWidth": 1, "title": "CI", "titleAngle": 0, "titleAlign": "right", "titleBaseline": "middle", "titleFontSize": 20, "titlePadding": 5}}}},
          {"data": {"name": "fit"}, "transform": [{"filter": "datum.cell == 'J82'"}], "mark": {"type": "line", "color": "#6d6dff", "strokeWidth": 1.2},
           "encoding": {"x": {"field": "Fa", "type": "quantitative", "scale": {"domain": [0, 1]}, "axis": {"values": [0,0.1,0.2,0.3,0.4,0.5,0.6,0.7,0.8,0.9,1], "labels": false, "tickSize": 2, "tickWidth": 1, "tickColor": "#aaa", "domainColor": "#b5b5b5", "domainWidth": 1, "title": "Fa", "titleFontWeight": "normal", "titleFontSize": 20, "titlePadding": 3}},
                        "y": {"field": "CI", "type": "quantitative"}}},
          {"data": {"name": "ci"}, "transform": [{"filter": "datum.cell == 'J82'"}], "mark": {"type": "point", "filled": false, "color": "#7272ff", "size": 26, "strokeWidth": 1},
           "encoding": {"x": {"field": "Fa", "type": "quantitative"}, "y": {"field": "CI", "type": "quantitative"}}}
        ]
      },
      {"width": 1, "height": 41.6, "data": {"values": []}, "mark": "point"},
      {
        "width": 133, "height": 113.4,
        "layer": [
          {"data": {"values": [{}]}, "mark": {"type": "rule", "color": "#a8a8a8", "strokeWidth": 1}, "encoding": {"y": {"datum": 1, "type": "quantitative", "scale": {"domain": [0, 2]}, "axis": {"values": [0,0.5,1,1.5,2], "labelExpr": "datum.value == 0 ? '0' : datum.value == 2 ? '2' : ''", "labelFontSize": 5, "labelFontWeight": "normal", "labelColor": "#666", "labelPadding": 1, "tickSize": 2, "tickWidth": 1, "tickColor": "#aaa", "domainColor": "#b5b5b5", "domainWidth": 1, "title": "CI", "titleAngle": 0, "titleAlign": "right", "titleBaseline": "middle", "titleFontSize": 20, "titlePadding": 5}}}},
          {"data": {"name": "fit"}, "transform": [{"filter": "datum.cell == '5637'"}], "mark": {"type": "line", "color": "#6d6dff", "strokeWidth": 1.2},
           "encoding": {"x": {"field": "Fa", "type": "quantitative", "scale": {"domain": [0, 1]}, "axis": {"values": [0,0.1,0.2,0.3,0.4,0.5,0.6,0.7,0.8,0.9,1], "labels": false, "tickSize": 2, "tickWidth": 1, "tickColor": "#aaa", "domainColor": "#b5b5b5", "domainWidth": 1, "title": "Fa", "titleFontWeight": "normal", "titleFontSize": 20, "titlePadding": 3}},
                        "y": {"field": "CI", "type": "quantitative"}}},
          {"data": {"name": "ci"}, "transform": [{"filter": "datum.cell == '5637'"}], "mark": {"type": "point", "filled": false, "color": "#7272ff", "size": 26, "strokeWidth": 1},
           "encoding": {"x": {"field": "Fa", "type": "quantitative"}, "y": {"field": "CI", "type": "quantitative"}}}
        ]
      }
    ],
    "spacing": 0, "bounds": "flush"
  },
  {"width": 150, "height": 1, "data": {"values": []}, "mark": "point"},
  {
    "vconcat": [
      {"width": 1, "height": 28.3, "data": {"values": []}, "mark": "point"},
      {
        "width": 166, "height": 125,
        "data": {"name": "tbl"},
        "transform": [{"filter": "datum.cell == 'T24'"}, {"fold": ["Fa", "CI"], "as": ["col", "txt"]}],
        "encoding": {
          "x": {"field": "col", "type": "nominal", "scale": {"domain": ["Fa", "CI"], "paddingInner": 0, "paddingOuter": 0}, "axis": null},
          "y": {"field": "r", "type": "ordinal", "scale": {"paddingInner": 0, "paddingOuter": 0}, "axis": null}
        },
        "layer": [
          {"mark": {"type": "rect", "fill": "white", "stroke": "#333", "strokeWidth": 1.2}},
          {"transform": [{"filter": "datum.r == 0"}], "mark": {"type": "text", "font": "Liberation Sans", "fontSize": 13, "fontWeight": "bold", "color": "#111"}, "encoding": {"text": {"field": "txt", "type": "nominal"}}},
          {"transform": [{"filter": "datum.r > 0 && datum.col == 'Fa'"}], "mark": {"type": "text", "font": "Liberation Sans", "fontSize": 13, "color": "#333", "dx": -9}, "encoding": {"text": {"field": "txt", "type": "nominal"}}},
          {"transform": [{"filter": "datum.r > 0 && datum.col == 'CI'"}], "mark": {"type": "text", "font": "Liberation Sans", "fontSize": 13, "color": "#333"}, "encoding": {"text": {"field": "txt", "type": "nominal"}}}
        ]
      },
      {"width": 1, "height": 25, "data": {"values": []}, "mark": "point"},
      {
        "width": 166, "height": 120,
        "data": {"name": "tbl"},
        "transform": [{"filter": "datum.cell == 'J82'"}, {"fold": ["Fa", "CI"], "as": ["col", "txt"]}],
        "encoding": {
          "x": {"field": "col", "type": "nominal", "scale": {"domain": ["Fa", "CI"], "paddingInner": 0, "paddingOuter": 0}, "axis": null},
          "y": {"field": "r", "type": "ordinal", "scale": {"paddingInner": 0, "paddingOuter": 0}, "axis": null}
        },
        "layer": [
          {"mark": {"type": "rect", "fill": "white", "stroke": "#333", "strokeWidth": 1.2}},
          {"transform": [{"filter": "datum.r == 0"}], "mark": {"type": "text", "font": "Liberation Sans", "fontSize": 13, "fontWeight": "bold", "color": "#111"}, "encoding": {"text": {"field": "txt", "type": "nominal"}}},
          {"transform": [{"filter": "datum.r > 0 && datum.col == 'Fa'"}], "mark": {"type": "text", "font": "Liberation Sans", "fontSize": 13, "color": "#333", "dx": -9}, "encoding": {"text": {"field": "txt", "type": "nominal"}}},
          {"transform": [{"filter": "datum.r > 0 && datum.col == 'CI'"}], "mark": {"type": "text", "font": "Liberation Sans", "fontSize": 13, "color": "#333"}, "encoding": {"text": {"field": "txt", "type": "nominal"}}}
        ]
      },
      {"width": 1, "height": 33.4, "data": {"values": []}, "mark": "point"},
      {
        "width": 166, "height": 122.6,
        "data": {"name": "tbl"},
        "transform": [{"filter": "datum.cell == '5637'"}, {"fold": ["Fa", "CI"], "as": ["col", "txt"]}],
        "encoding": {
          "x": {"field": "col", "type": "nominal", "scale": {"domain": ["Fa", "CI"], "paddingInner": 0, "paddingOuter": 0}, "axis": null},
          "y": {"field": "r", "type": "ordinal", "scale": {"paddingInner": 0, "paddingOuter": 0}, "axis": null}
        },
        "layer": [
          {"mark": {"type": "rect", "fill": "white", "stroke": "#333", "strokeWidth": 1.2}},
          {"transform": [{"filter": "datum.r == 0"}], "mark": {"type": "text", "font": "Liberation Sans", "fontSize": 13, "fontWeight": "bold", "color": "#111"}, "encoding": {"text": {"field": "txt", "type": "nominal"}}},
          {"transform": [{"filter": "datum.r > 0 && datum.col == 'Fa'"}], "mark": {"type": "text", "font": "Liberation Sans", "fontSize": 13, "color": "#333", "dx": -9}, "encoding": {"text": {"field": "txt", "type": "nominal"}}},
          {"transform": [{"filter": "datum.r > 0 && datum.col == 'CI'"}], "mark": {"type": "text", "font": "Liberation Sans", "fontSize": 13, "color": "#333"}, "encoding": {"text": {"field": "txt", "type": "nominal"}}}
        ]
      }
    ],
    "spacing": 0, "bounds": "flush"
  }
]
}
